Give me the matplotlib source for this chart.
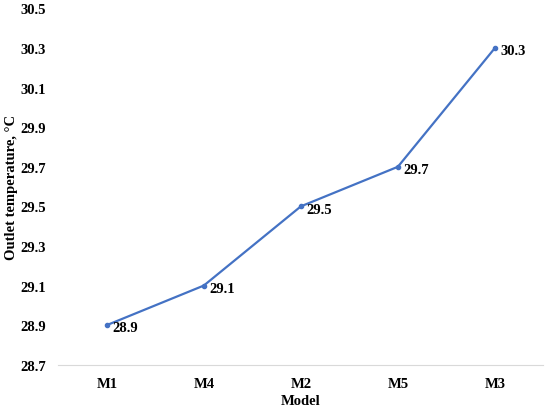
import matplotlib
matplotlib.use("Agg")
import matplotlib.pyplot as plt

models = ["M1", "M4", "M2", "M5", "M3"]
temps = [28.9, 29.1, 29.5, 29.7, 30.3]
yticks = [28.7, 28.9, 29.1, 29.3, 29.5, 29.7, 29.9, 30.1, 30.3, 30.5]

plt.rcParams['font.family'] = ['Liberation Serif', 'DejaVu Serif']
plt.rcParams['font.weight'] = 'bold'

fig = plt.figure(figsize=(5.5, 4.1), dpi=100)
ax = fig.add_axes([0.106, 0.108, 0.882, 0.869])

xs = range(len(models))
ax.plot(xs, temps, color='#4472C4', linewidth=1.6, marker='o', markersize=3)
for x, t in zip(xs, temps):
    ax.annotate('%.1f' % t, (x, t), xytext=(4, -2), textcoords='offset points',
                ha='left', va='center', fontsize=10.5, fontweight='bold')

ax.set_xlim(-0.5, len(models) - 0.5)
ax.set_ylim(28.7, 30.5)
ax.set_xticks(list(xs))
ax.set_xticklabels(models)
ax.set_yticks(yticks)
ax.set_yticklabels(['%.1f' % v for v in yticks])
ax.tick_params(length=0, labelsize=10.5)
ax.tick_params(axis='x', pad=9)
ax.tick_params(axis='y', pad=9)

for s in ['top', 'right', 'left']:
    ax.spines[s].set_visible(False)
ax.spines['bottom'].set_color('#D9D9D9')
ax.spines['bottom'].set_linewidth(0.8)

ax.set_xlabel('Model', fontsize=10.5, fontweight='bold', labelpad=3)
ax.set_ylabel('Outlet temperature, \u00b0C', fontsize=10.5, fontweight='bold')
ax.yaxis.set_label_coords(-0.083, 0.5)

fig.savefig('out.png', dpi=100)
